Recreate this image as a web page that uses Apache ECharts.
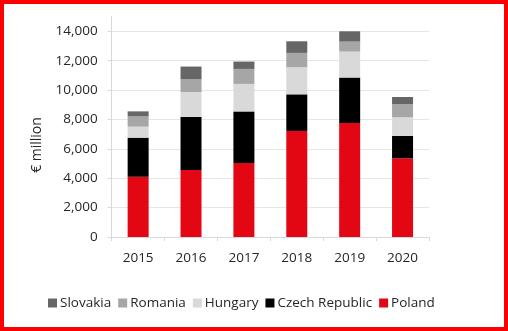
<!DOCTYPE html>
<html><head><meta charset="utf-8">
<script src="https://cdn.jsdelivr.net/npm/echarts@6/dist/echarts.min.js"></script>
<style>
html,body{margin:0;padding:0;background:#fff;}
#wrap{position:relative;width:508px;height:331px;}
#chart{position:absolute;left:0;top:0;width:508px;height:331px;}
#frame{position:absolute;left:0;top:0;width:508px;height:331px;box-sizing:border-box;border:4px solid #ff0000;pointer-events:none;}
</style></head>
<body><div id="wrap"><div id="chart"></div><div id="frame"></div></div>
<script>
const years = ['2015','2016','2017','2018','2019','2020'];
const poland   = [4100, 4560, 5040, 7220, 7760, 5360];
const czech    = [2660, 3610, 3510, 2490, 3090, 1520];
const hungary  = [750, 1700, 1870, 1840, 1770, 1270];
const romania  = [700, 860, 1020, 980, 680, 880];
const slovakia = [340, 870, 500, 790, 700, 500];
const yTicks = [0, 2000, 4000, 6000, 8000, 10000, 12000, 14000];

const font = '"Open Sans", sans-serif';
const txt = '#262626';
const chart = echarts.init(document.getElementById('chart'));
function bar(name, data, color){
  return {name, type:'bar', stack:'t', data, barWidth:21, itemStyle:{color}};
}
chart.setOption({
  animation:false,
  textStyle:{fontFamily:font},
  grid:{left:111.7, right:79, top:31.3, bottom:94},
  legend:{
    data:['Slovakia','Romania','Hungary','Czech Republic','Poland'],
    left:43, top:291, icon:'rect', itemWidth:9, itemHeight:9, itemGap:7,
    textStyle:{fontFamily:font, fontSize:13.5, color:txt, padding:[0,0,0,-2]}
  },
  xAxis:{
    type:'category', data:years,
    axisLine:{lineStyle:{color:'#d9d9d9'}},
    axisTick:{show:true, length:4, lineStyle:{color:'#d9d9d9'}},
    axisLabel:{fontFamily:font, fontSize:13.5, color:txt, margin:14}
  },
  yAxis:{
    type:'value', min:yTicks[0], max:yTicks[yTicks.length-1], interval:2000,
    axisLine:{show:true, lineStyle:{color:'#d9d9d9'}},
    axisTick:{show:true, length:4, lineStyle:{color:'#d9d9d9'}},
    splitLine:{lineStyle:{color:'#e6e6e6'}},
    axisLabel:{fontFamily:font, fontSize:13.5, color:txt, margin:14,
      formatter:v=>v.toLocaleString('en-US')}
  },
  graphic:[
    {type:'line', shape:{x1:111.5,y1:16,x2:111.5,y2:31.3}, style:{stroke:'#d9d9d9', lineWidth:1}, silent:true},
    {type:'text', x:37, y:145, rotation:Math.PI/2,
     style:{text:'€ million', font:'14px "Open Sans", sans-serif', fill:txt, align:'center', verticalAlign:'middle'}}
  ],
  series:[
    bar('Poland', poland, '#e30613'),
    bar('Czech Republic', czech, '#000000'),
    bar('Hungary', hungary, '#d9d9d9'),
    bar('Romania', romania, '#a6a6a6'),
    bar('Slovakia', slovakia, '#666666')
  ]
});
</script></body></html>
